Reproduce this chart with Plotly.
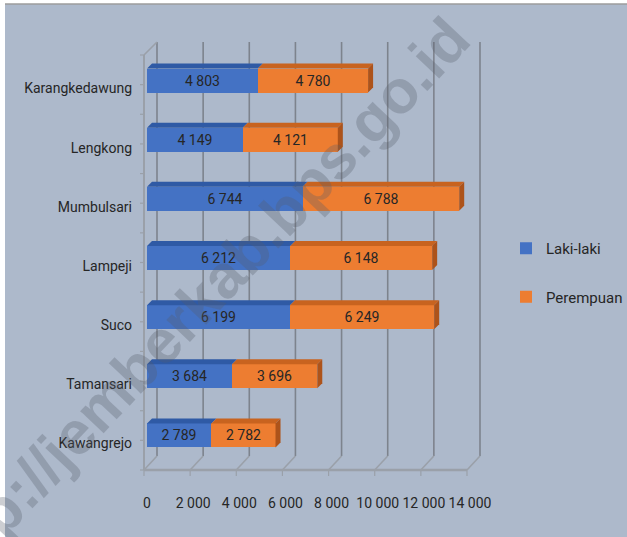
import plotly.graph_objects as go

categories = ["Karangkedawung", "Lengkong", "Mumbulsari", "Lampeji", "Suco", "Tamansari", "Kawangrejo"]
laki = [4803, 4149, 6744, 6212, 6199, 3684, 2789]
perempuan = [4780, 4121, 6788, 6148, 6249, 3696, 2782]
tick_vals = [0, 2000, 4000, 6000, 8000, 10000, 12000, 14000]
series_names = ["Laki-laki", "Perempuan"]

W, H = 627, 537
L, R, T, B = 147, 157, 51, 72
PW, PH = W - L - R, H - T - B
XMAX = 14000
SX = PW / XMAX          # px per unit
SY = PH / 7.0           # px per category
BW = 0.406              # bar width (categories)
DXp, DYp = 5, 5         # 3D depth of bars (px)
DX, DY = DXp / SX, DYp / SY

BG = "#adb9cb"
BLUE, ORANGE = "#4472c4", "#ed7d31"
BLUE_TOP, ORANGE_TOP, ORANGE_SIDE = "#2f5aa5", "#c8631f", "#ad531a"
GRID = "#7d838d"
FLOOR = "#9aa0a9"
FONT = "Roboto, DejaVu Sans Condensed, sans-serif"
FS = 14

def px(x):
    return (x - L) / PW

def py(y):
    return (H - B - y) / PH

ys = list(range(len(categories)))

fig = go.Figure()
for name, vals, col in [(series_names[0], laki, BLUE), (series_names[1], perempuan, ORANGE)]:
    fig.add_trace(go.Bar(
        y=ys, x=vals, name=name, orientation="h", width=BW,
        marker=dict(color=col, line=dict(width=0)),
        texttemplate="%{x:,}", textposition="inside", insidetextanchor="middle",
        textfont=dict(family=FONT, size=FS, color="#262626"), constraintext="none",
        legendgroup=name, hoverinfo="skip",
    ))

shapes = []
# background panel
shapes.append(dict(type="rect", xref="paper", yref="paper", x0=px(-5), x1=px(W + 5), y0=py(-5), y1=py(H + 5),
                   fillcolor="white", line=dict(width=0), layer="below"))
shapes.append(dict(type="rect", xref="paper", yref="paper", x0=px(5), x1=px(W + 5), y0=py(4), y1=py(H + 5),
                   fillcolor=BG, line=dict(width=0), layer="below"))
shapes.append(dict(type="line", xref="paper", yref="paper", x0=px(5), x1=px(W), y0=py(4), y1=py(4),
                   line=dict(color="#9c9c9c", width=1.5), layer="below"))

# 3D frame: back vertical gridlines, floor diagonals, front floor line, left wall
front0, back0 = 144, 157
fscale = (467 - 144) / XMAX
bscale = (480 - 157) / XMAX
floor_front, floor_back = 470, 456
top_front, top_back = 55, 42
for v in tick_vals:
    fx = front0 + v * fscale
    bx = back0 + v * bscale
    shapes.append(dict(type="line", xref="paper", yref="paper", x0=px(bx), x1=px(bx), y0=py(top_back), y1=py(floor_back),
                       line=dict(color=GRID, width=1.6), layer="below"))
    shapes.append(dict(type="line", xref="paper", yref="paper", x0=px(fx), x1=px(bx), y0=py(floor_front), y1=py(floor_back),
                       line=dict(color=FLOOR, width=1.6), layer="below"))
    shapes.append(dict(type="line", xref="paper", yref="paper", x0=px(fx), x1=px(fx), y0=py(floor_front), y1=py(floor_front + 6),
                       line=dict(color=FLOOR, width=1.2), layer="below"))
shapes.append(dict(type="line", xref="paper", yref="paper", x0=px(front0), x1=px(front0 + XMAX * fscale), y0=py(floor_front), y1=py(floor_front),
                   line=dict(color=FLOOR, width=2.5), layer="below"))
shapes.append(dict(type="line", xref="paper", yref="paper", x0=px(front0), x1=px(front0), y0=py(top_front), y1=py(floor_front),
                   line=dict(color=FLOOR, width=2), layer="below"))
shapes.append(dict(type="line", xref="paper", yref="paper", x0=px(front0), x1=px(back0), y0=py(top_front), y1=py(top_back),
                   line=dict(color=FLOOR, width=1.6), layer="below"))
n_ticks = 2 * len(categories) + 1
for k in range(n_ticks):
    yy = top_front + k * (floor_front - top_front) / (n_ticks - 1)
    shapes.append(dict(type="line", xref="paper", yref="paper", x0=px(front0 - 4), x1=px(front0), y0=py(yy), y1=py(yy),
                       line=dict(color=FLOOR, width=1.2), layer="below"))

# 3D faces for bars
for i in ys:
    a, b = laki[i], perempuan[i]
    ytop = i - BW / 2
    ybot = i + BW / 2
    for x0, x1, col in [(0, a, BLUE_TOP), (a, a + b, ORANGE_TOP)]:
        path = f"M {x0},{ytop} L {x1},{ytop} L {x1 + DX},{ytop - DY} L {x0 + DX},{ytop - DY} Z"
        shapes.append(dict(type="path", xref="x", yref="y", path=path, fillcolor=col, line=dict(width=0), layer="above"))
    xe = a + b
    path = f"M {xe},{ytop} L {xe + DX},{ytop - DY} L {xe + DX},{ybot - DY} L {xe},{ybot} Z"
    shapes.append(dict(type="path", xref="x", yref="y", path=path, fillcolor=ORANGE_SIDE, line=dict(width=0), layer="above"))

fig.update_layout(
    width=W, height=H,
    margin=dict(l=L, r=R, t=T, b=B, autoexpand=False),
    paper_bgcolor=BG, plot_bgcolor="rgba(0,0,0,0)",
    barmode="stack", bargap=0,
    separators=". ",
    font=dict(family=FONT, size=FS, color="#262626"),
    shapes=shapes,
    showlegend=True,
    legend=dict(x=px(506), y=py(232), xanchor="left", yanchor="top", bgcolor="rgba(0,0,0,0)",
                font=dict(family=FONT, size=15, color="#262626"), tracegroupgap=26, traceorder="grouped"),
    xaxis=dict(range=[0, XMAX], tickvals=tick_vals, tickformat=",", showgrid=False, zeroline=False,
               showline=False, ticks="", ticklabelstandoff=28, tickangle=0, automargin=False, fixedrange=True,
               tickfont=dict(family=FONT, size=FS, color="#262626")),
    yaxis=dict(range=[len(categories) - 0.5, -0.5], tickvals=ys, ticktext=categories, showgrid=False,
               zeroline=False, showline=False, ticks="", ticklabelstandoff=14, ticklabelshift=-8, automargin=False,
               fixedrange=True, tickfont=dict(family=FONT, size=FS, color="#262626")),
    annotations=[dict(text="<b>http://jemberkab.bps.go.id</b>", xref="paper", yref="paper",
                      x=px(196), y=py(305), xanchor="center", yanchor="middle", showarrow=False, textangle=-46.6,
                      font=dict(family="Liberation Sans, Arial, sans-serif", size=61, color="rgba(85,92,105,0.30)"))],
)

fig.write_html("out.html", config={"displayModeBar": False},
               post_script="document.body.style.margin='0px';document.body.style.overflow='hidden';")
